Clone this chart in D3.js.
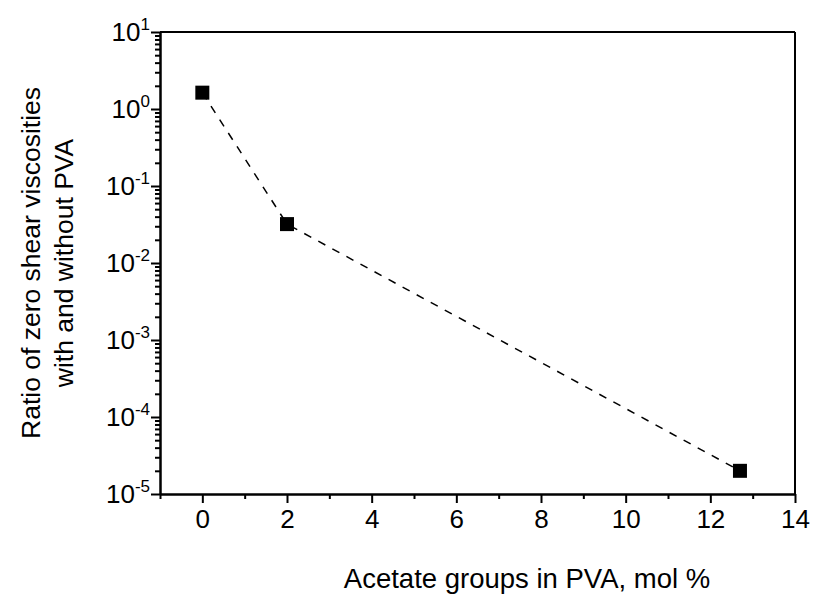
<!DOCTYPE html>
<html lang="en">
<head>
    <meta charset="UTF-8">
    <script src="https://d3js.org/d3.v7.min.js"></script>
    <title>Viscosity ratio vs acetate groups</title>
    <style>
        body { margin: 0; background: #fff; }
        text { font-family: Arial, "Liberation Sans", sans-serif; fill: #000; }
    </style>
</head>
<body>
<div id="vis"></div>
<script>
    // data
    var acetate = [0, 2, 12.7],
        ratio = [1.63, 0.032, 2.0e-5],
        xTicks = [0, 2, 4, 6, 8, 10, 12, 14],
        xMinor = [-1, 1, 3, 5, 7, 9, 11, 13],
        yExp = [-5, -4, -3, -2, -1, 0, 1];

    var width = 840, height = 607,
        margin = {left: 160, right: 45, top: 32, bottom: 113},
        svg = d3.select("#vis").append("svg").attr("width", width).attr("height", height);

    var x = d3.scaleLinear().domain([-1, 14]).range([margin.left, width - margin.right]),
        y = d3.scaleLog().domain([1e-5, 10]).range([height - margin.bottom, margin.top]);

    var yMajor = yExp.map(function(e){ return Math.pow(10, e); }),
        yMinor = [];
    yExp.slice(0, -1).forEach(function(e){
        for (var k = 2; k < 10; k++) yMinor.push(k * Math.pow(10, e));
    });

    // frame: top and right lines
    svg.append("line").attr("x1", x(-1)).attr("x2", x(14)).attr("y1", y(10)).attr("y2", y(10))
        .style("stroke", "#000").style("stroke-width", 2);
    svg.append("line").attr("x1", x(14)).attr("x2", x(14)).attr("y1", y(10)).attr("y2", y(1e-5))
        .style("stroke", "#000").style("stroke-width", 2);

    // x axis
    var gx = svg.append("g").attr("transform", "translate(0," + y(1e-5) + ")");
    gx.call(d3.axisBottom(x).tickValues(xTicks).tickSize(9).tickSizeOuter(0).tickPadding(7));
    gx.append("g").call(d3.axisBottom(x).tickValues(xMinor).tickSize(5).tickSizeOuter(0).tickFormat(""));
    gx.selectAll("text").style("font-size", "26px").style("font-family", "Arial, 'Liberation Sans', sans-serif");

    // y axis
    var gy = svg.append("g").attr("transform", "translate(" + x(-1) + ",0)");
    gy.call(d3.axisLeft(y).tickValues(yMajor).tickSize(9).tickSizeOuter(0).tickFormat(""));
    gy.append("g").call(d3.axisLeft(y).tickValues(yMinor).tickSize(5).tickSizeOuter(0).tickFormat(""));

    svg.selectAll(".domain").style("stroke-width", 2);
    svg.selectAll(".tick line").style("stroke-width", 2);

    // y tick labels 10^n
    var yl = svg.append("g").selectAll("text").data(yExp).enter().append("text")
        .attr("x", x(-1) - 10)
        .attr("y", function(d){ return y(Math.pow(10, d)) + 9; })
        .attr("text-anchor", "end")
        .style("font-size", "26px");
    yl.append("tspan").text("10");
    yl.append("tspan").attr("dy", -11).style("font-size", "17px").text(function(d){ return d; });

    // dashed connecting line
    var pts = acetate.map(function(d, i){ return [d, ratio[i]]; });
    svg.append("path")
        .datum(pts)
        .attr("d", d3.line().x(function(d){ return x(d[0]); }).y(function(d){ return y(d[1]); }))
        .style("fill", "none").style("stroke", "#000").style("stroke-width", 1.5)
        .style("stroke-dasharray", "8,8");

    // square markers
    var ms = 14;
    svg.append("g").selectAll("rect").data(pts).enter().append("rect")
        .attr("x", function(d){ return x(d[0]) - ms / 2; })
        .attr("y", function(d){ return y(d[1]) - ms / 2; })
        .attr("width", ms).attr("height", ms)
        .style("fill", "#000");

    // axis titles
    svg.append("text")
        .attr("x", 527).attr("y", 588)
        .attr("text-anchor", "middle").style("font-size", "27.5px")
        .text("Acetate groups in PVA, mol %");

    var cy = (y(10) + y(1e-5)) / 2;
    svg.append("text")
        .attr("transform", "translate(40," + cy + ") rotate(-90)")
        .attr("text-anchor", "middle").style("font-size", "26.5px")
        .text("Ratio of zero shear viscosities");
    svg.append("text")
        .attr("transform", "translate(73," + cy + ") rotate(-90)")
        .attr("text-anchor", "middle").style("font-size", "26.5px")
        .text("with and without PVA");
</script>
</body>
</html>
